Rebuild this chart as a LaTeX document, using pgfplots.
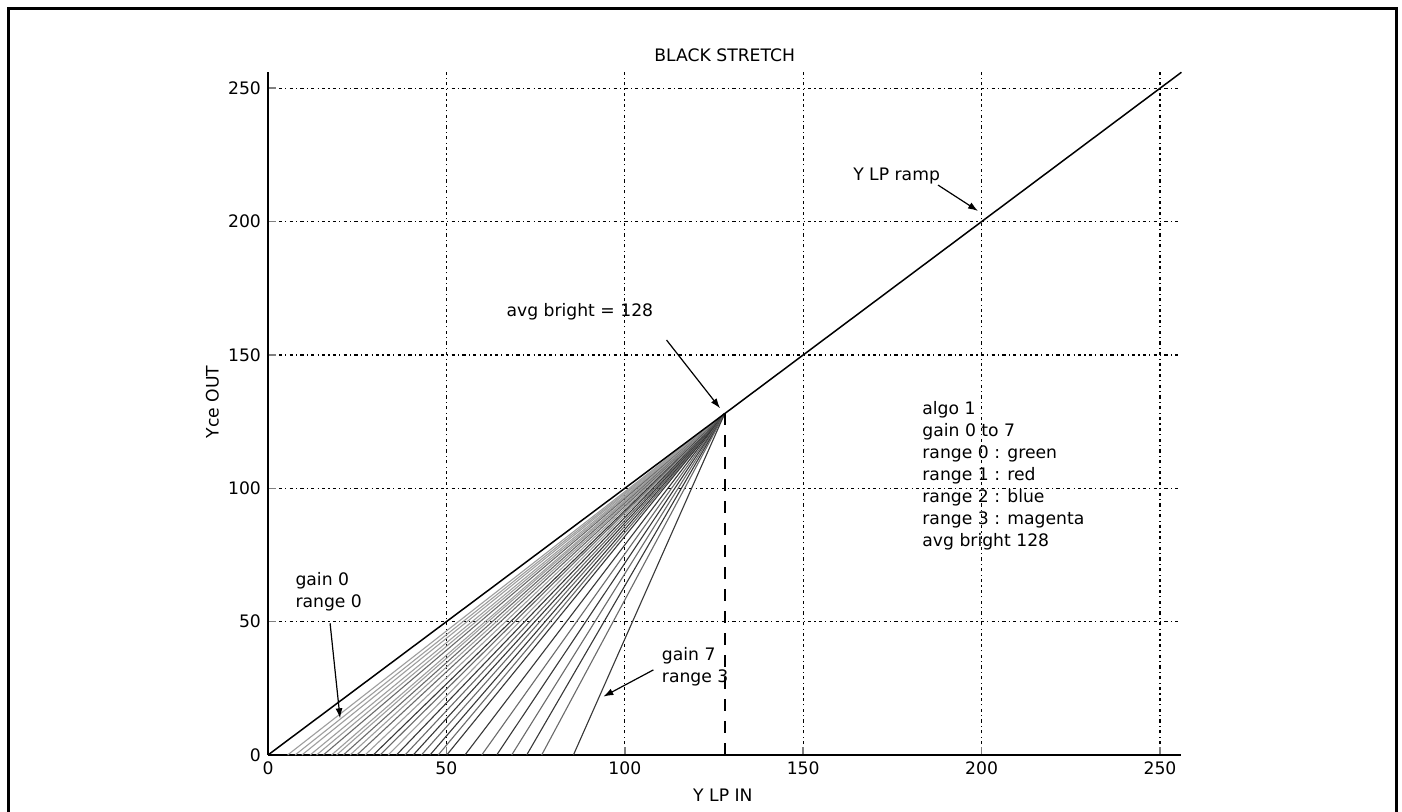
\documentclass[border=0pt]{standalone}
\usepackage{fontspec}
\setmainfont{DejaVu Sans}
\usepackage{pgfplots}
\pgfplotsset{compat=1.18}
\usetikzlibrary{arrows.meta}
\begin{document}
\begin{tikzpicture}[x=1pt,y=1pt]
\useasboundingbox (0,0) rectangle (701,406);
\fill[white] (0,0) rectangle (701,406);
\draw[line width=1.5pt] (4,-10) -- (4,401.5) -- (698,401.5) -- (698,-10);
\begin{axis}[
 at={(134pt,28.5pt)}, anchor=south west, scale only axis,
 width=456.7pt, height=341.35pt,
 xmin=0, xmax=256, ymin=0, ymax=256,
 xtick={0,50,100,150,200,250}, ytick={0,50,100,150,200,250},
 axis x line*=bottom, axis y line*=left,
 tick align=inside, major tick length=4pt,
 major tick style={line width=0.8pt},
 grid=major,
 grid style={black, line width=0.6pt, dash pattern=on 1.6pt off 1.6pt on 0.6pt off 1.6pt},
 tick label style={font=\fontsize{8.6}{10}\selectfont},
 /pgf/number format/assume math mode=true,
 clip=false,
 axis line style={line width=0.8pt},
 lg/.style={black!38, line width=0.55pt},
 mg/.style={black!58, line width=0.55pt},
 dg/.style={black!78, line width=0.55pt},
]
% fan of black-stretch curves converging at (128,128)
\addplot[lg] coordinates {(5.5,0) (128,128)};
\addplot[lg] coordinates {(7.6,0) (128,128)};
\addplot[lg] coordinates {(9.5,0) (128,128)};
\addplot[lg] coordinates {(11.8,0) (128,128)};
\addplot[lg] coordinates {(13.6,0) (128,128)};
\addplot[mg] coordinates {(15.5,0) (128,128)};
\addplot[lg] coordinates {(17.8,0) (128,128)};
\addplot[lg] coordinates {(19.2,0) (128,128)};
\addplot[mg] coordinates {(21.1,0) (128,128)};
\addplot[lg] coordinates {(23.0,0) (128,128)};
\addplot[mg] coordinates {(24.9,0) (128,128)};
\addplot[lg] coordinates {(27.2,0) (128,128)};
\addplot[dg] coordinates {(29.5,0) (128,128)};
\addplot[mg] coordinates {(31.4,0) (128,128)};
\addplot[lg] coordinates {(33.7,0) (128,128)};
\addplot[dg] coordinates {(36.0,0) (128,128)};
\addplot[mg] coordinates {(38.4,0) (128,128)};
\addplot[dg] coordinates {(40.7,0) (128,128)};
\addplot[mg] coordinates {(43.0,0) (128,128)};
\addplot[dg] coordinates {(45.4,0) (128,128)};
\addplot[mg] coordinates {(47.7,0) (128,128)};
\addplot[dg] coordinates {(50.1,0) (128,128)};
\addplot[dg] coordinates {(55.2,0) (128,128)};
\addplot[mg] coordinates {(59.9,0) (128,128)};
\addplot[dg] coordinates {(64.1,0) (128,128)};
\addplot[mg] coordinates {(68.3,0) (128,128)};
\addplot[dg] coordinates {(72.5,0) (128,128)};
\addplot[mg] coordinates {(76.7,0) (128,128)};
\addplot[dg] coordinates {(85.6,0) (128,128)};
% Y LP ramp
\addplot[black, line width=0.75pt] coordinates {(0,0) (256,256)};
% avg bright marker
\addplot[black, line width=0.8pt, dash pattern=on 6pt off 5pt] coordinates {(128,0) (128,128)};

% title and labels
\node[font=\fontsize{8.6}{10}\selectfont] at (rel axis cs:0.5,1.0254) {BLACK STRETCH};
\node[font=\fontsize{8.6}{10}\selectfont] at (rel axis cs:0.498,-0.0586) {Y LP IN};
\node[font=\fontsize{8.6}{10}\selectfont, rotate=90] at (rel axis cs:-0.061,0.517) {Yce OUT};

% annotations
\node[font=\fontsize{8.6}{10}\selectfont, anchor=south east, inner sep=1pt] at (axis cs:189,213) {Y LP ramp};
\draw[-{Latex[length=5pt,width=3.5pt]}, line width=0.6pt] (axis cs:187.8,213.7) -- (axis cs:199,204);

\node[font=\fontsize{8.6}{10}\selectfont] at (axis cs:87.4,166.2) {avg bright = 128};
\draw[-{Latex[length=5pt,width=3.5pt]}, line width=0.6pt] (axis cs:111.7,155.6) -- (axis cs:126.7,130);

\node[font=\fontsize{8.6}{11}\selectfont, anchor=north west, align=left, inner sep=0pt] at (axis cs:7.6,68.5) {gain 0\\range 0};
\draw[-{Latex[length=5pt,width=3.5pt]}, line width=0.6pt] (axis cs:17.4,49.4) -- (axis cs:20.2,13.75);

\node[font=\fontsize{8.6}{11}\selectfont, anchor=north west, align=left, inner sep=0pt] at (axis cs:110.3,40.5) {gain 7\\range 3};
\draw[-{Latex[length=5pt,width=3.5pt]}, line width=0.6pt] (axis cs:108,31.9) -- (axis cs:94,21.9);

\node[font=\fontsize{8.6}{11}\selectfont, anchor=north west, align=left, inner sep=0pt] at (axis cs:183.3,132.8) {algo 1\\gain 0 to 7\\range 0 : green\\range 1 : red\\range 2 : blue\\range 3 : magenta\\avg bright 128};
\end{axis}
\end{tikzpicture}
\end{document}
